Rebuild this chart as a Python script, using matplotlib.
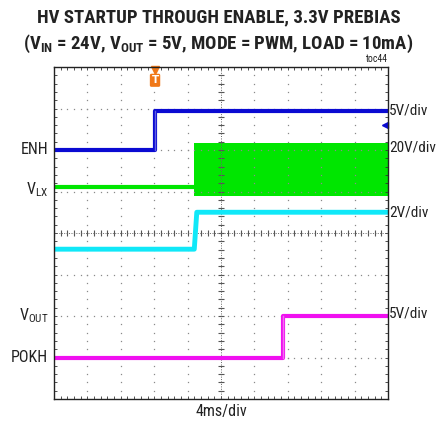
import matplotlib
matplotlib.use("Agg")
import matplotlib.pyplot as plt
from matplotlib import font_manager
import numpy as np

# pick a narrow sans (the reference uses an Arial Narrow look)
fonts = font_manager.fontManager.ttflist
def pick(prefs, need_bold=False):
    for p in prefs:
        ws = [f.weight for f in fonts if f.name == p]
        ws = [w if isinstance(w, int) else (700 if w == 'bold' else 400) for w in ws]
        if ws and (not need_bold or max(ws) >= 600):
            return p
    return 'DejaVu Sans'

narrow = ['Arial Narrow', 'Liberation Sans Narrow', 'Roboto Condensed', 'Archivo Narrow',
          'Fira Sans Condensed', 'Asap Condensed', 'Liberation Sans']
fam = pick(narrow)
fam_b = pick(narrow, need_bold=True)
plt.rcParams['font.family'] = [fam, 'DejaVu Sans']
plt.rcParams['mathtext.fontset'] = 'custom'
plt.rcParams['mathtext.rm'] = fam
plt.rcParams['mathtext.bf'] = fam_b + ':bold'

# scope screen: 10 x 8 divisions, time axis in ms (4 ms/div), levels in divisions
t_enh = [0, 12.1, 12.1, 40]
v_enh = [6.0, 6.0, 6.95, 6.95]

t_vlx = [0, 16.8]
v_vlx = [5.12, 5.12]
vlx_burst_t = [16.8, 40]
vlx_burst_lo = 4.89
vlx_burst_hi = 6.16

t_vout = [0, 16.8, 17.1, 40]
v_vout = [3.61, 3.61, 4.5, 4.5]

t_pokh = [0, 27.4, 27.4, 40]
v_pokh = [1.0, 1.0, 2.0, 2.0]

left_labels = ["ENH", r"V$_{\mathrm{LX}}$", r"V$_{\mathrm{OUT}}$", "POKH"]
left_label_y = [6.0, 5.05, 2.0, 1.0]
right_labels = ["5V/div", "20V/div", "2V/div", "5V/div"]
right_label_y = [6.95, 6.05, 4.5, 2.05]

trig_t = 12.1
ref_marker_y = 6.6

c_blue = "#0a0ad2"
c_green = "#00e600"
c_cyan = "#10e8f8"
c_mag = "#f010f0"
c_grid = "#8a8a8a"
c_text = "#222222"

fig = plt.figure(figsize=(4.37, 4.22), dpi=100)
ax = fig.add_axes([54 / 437, 1 - 399 / 422, 334 / 437, 332 / 422])
ax.set_xlim(0, 40)
ax.set_ylim(0, 8)

# graticule
minor_x = np.arange(0, 40.01, 0.8)
minor_y = np.arange(0, 8.01, 0.2)
for gx in np.arange(4, 40, 4):
    ax.plot(np.full_like(minor_y, gx), minor_y, ls='none', marker='s', ms=0.9, color=c_grid, mew=0)
for gy in np.arange(1, 8, 1):
    ax.plot(minor_x, np.full_like(minor_x, gy), ls='none', marker='s', ms=0.9, color=c_grid, mew=0)
# centre cross with tick marks
ax.plot(minor_x, np.full_like(minor_x, 4), ls='none', marker='|', ms=4, color="#555555", mew=0.8)
ax.plot(np.full_like(minor_y, 20), minor_y, ls='none', marker='_', ms=4, color="#555555", mew=0.8)
ax.plot([0, 40], [4, 4], ls=(0, (1, 1.5)), color="#666666", lw=0.7)
ax.plot([20, 20], [0, 8], ls=(0, (1, 1.5)), color="#666666", lw=0.7)

# traces
ax.plot(t_enh, v_enh, color=c_blue, lw=3)
ax.plot(t_enh[1:3], v_enh[1:3], color="#6060e0", lw=1)
ax.plot(t_vlx, v_vlx, color=c_green, lw=3)
ax.fill_between(vlx_burst_t, vlx_burst_lo, vlx_burst_hi, color=c_green, lw=0)
ax.plot(t_vout, v_vout, color=c_cyan, lw=3.5)
ax.plot(t_pokh, v_pokh, color=c_mag, lw=3)
ax.plot(t_pokh[1:3], v_pokh[1:3], color="#f070f0", lw=1)

# trigger marker and reference arrow
ax.plot([trig_t], [7.93], marker='v', ms=5.5, color="#f07818", clip_on=False)
ax.text(trig_t, 7.68, "T", color="white", fontsize=7.5, fontweight='bold', ha='center', va='center',
        family='DejaVu Sans', bbox=dict(boxstyle="round,pad=0.15", fc="#f07818", ec="none"))
ax.plot([39.7], [ref_marker_y], marker='<', ms=5, color=c_blue, clip_on=False)

ax.set_xticks(minor_x)
ax.set_yticks(minor_y)
ax.tick_params(direction='in', length=2.5, width=0.6, color="#333333", top=True, right=True,
               labelbottom=False, labelleft=False)
for sp in ax.spines.values():
    sp.set_linewidth(1.0)
    sp.set_color(c_text)

for lab, ly in zip(left_labels, left_label_y):
    ax.text(-0.7, ly, lab, fontsize=11.5, ha='right', va='center', color=c_text)
for lab, ly in zip(right_labels, right_label_y):
    ax.text(40.15, ly, lab, fontsize=11, ha='left', va='center', color=c_text)

ax.text(20, -0.12, "4ms/div", fontsize=11.5, ha='center', va='top', color=c_text)
ax.text(40, 8.08, "toc44", fontsize=7, ha='right', va='bottom', color=c_text)

fig.text(0.5, 1 - 17 / 422, "HV STARTUP THROUGH ENABLE, 3.3V PREBIAS", fontsize=13.5,
         fontweight='bold', family=[fam_b, 'DejaVu Sans'], ha='center', va='center', color=c_text)
fig.text(0.5, 1 - 44 / 422,
         r"(V$_{\mathbf{IN}}$ = 24V, V$_{\mathbf{OUT}}$ = 5V, MODE = PWM, LOAD = 10mA)",
         fontsize=13.5, fontweight='bold', family=[fam_b, 'DejaVu Sans'], ha='center', va='center',
         color=c_text)

fig.savefig("out.png", dpi=100)
